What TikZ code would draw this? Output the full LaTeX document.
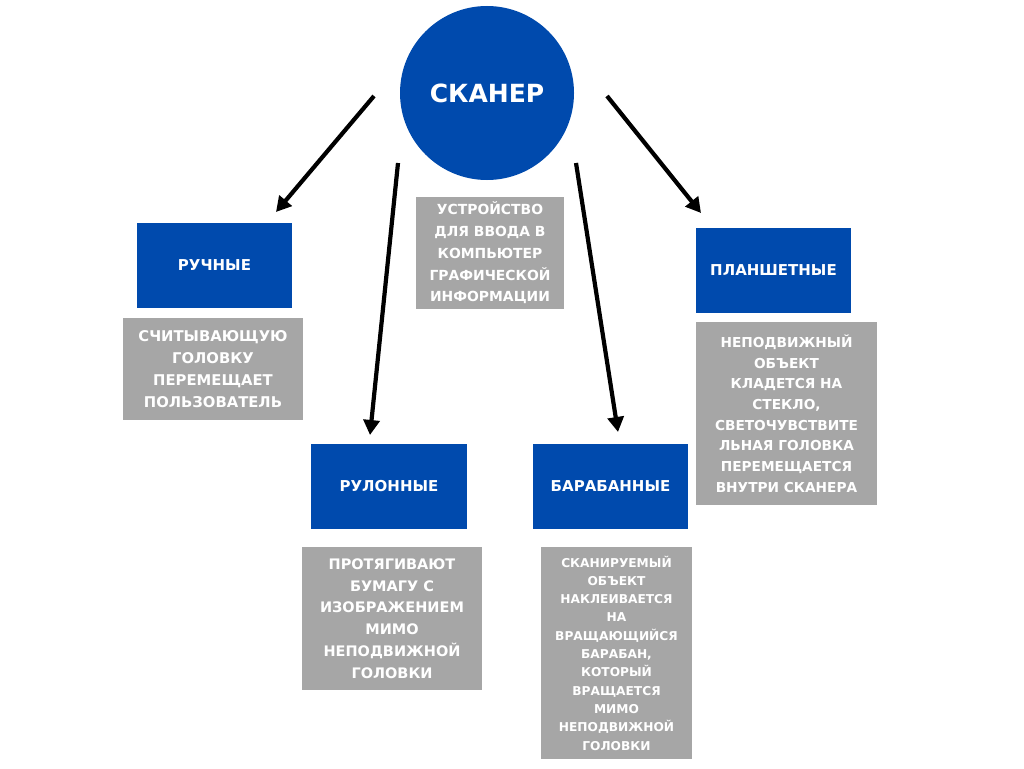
\documentclass[tikz,border=0pt]{standalone}
\usepackage{fontspec}
\setmainfont{DejaVu Sans}
\usetikzlibrary{arrows.meta}
\definecolor{cblue}{HTML}{004AAD}
\definecolor{cgray}{HTML}{A6A6A6}
\tikzset{
  bluebox/.style={fill=cblue, draw=none, text=white, inner sep=0pt, align=center,
    font=\bfseries\fontsize{15}{18}\selectfont},
  graybox/.style={fill=cgray, draw=none, text=white, inner sep=0pt, align=center},
  arr/.style={line width=4.2pt, -{Triangle[length=15pt,width=16pt]}},
}
\begin{document}
\begin{tikzpicture}[x=1pt,y=-1pt]
\useasboundingbox[fill=white] (0,0) rectangle (1024,768);
% main circle
\node[circle, fill=cblue, minimum size=174pt, inner sep=0pt, text=white,
  font=\bfseries\fontsize{25}{28}\selectfont] (scan) at (487,93) {СКАНЕР};
% description
\node[graybox, minimum width=148pt, minimum height=112pt,
  font=\bfseries\fontsize{13.9}{21.7}\selectfont] (desc) at (490,253)
  {УСТРОЙСТВО\\ДЛЯ ВВОДА В\\КОМПЬЮТЕР\\ГРАФИЧЕСКОЙ\\ИНФОРМАЦИИ};
% Ручные
\node[bluebox, minimum width=155pt, minimum height=85pt] (hand) at (214.5,265.5) {РУЧНЫЕ};
\node[graybox, minimum width=180pt, minimum height=102pt,
  font=\bfseries\fontsize{14.8}{22}\selectfont] (handd) at (213,369)
  {СЧИТЫВАЮЩУЮ\\ГОЛОВКУ\\ПЕРЕМЕЩАЕТ\\ПОЛЬЗОВАТЕЛЬ};
% Планшетные
\node[bluebox, minimum width=155pt, minimum height=85pt] (flat) at (773.5,270.5) {ПЛАНШЕТНЫЕ};
\node[graybox, minimum width=181pt, minimum height=183pt,
  font=\bfseries\fontsize{13.7}{20.7}\selectfont] (flatd) at (786.5,413.5)
  {НЕПОДВИЖНЫЙ\\ОБЪЕКТ\\КЛАДЕТСЯ НА\\СТЕКЛО,\\СВЕТОЧУВСТВИТЕ\\ЛЬНАЯ ГОЛОВКА\\ПЕРЕМЕЩАЕТСЯ\\ВНУТРИ СКАНЕРА};
% Рулонные
\node[bluebox, minimum width=156pt, minimum height=85pt] (roll) at (389,486.5) {РУЛОННЫЕ};
\node[graybox, minimum width=180pt, minimum height=143pt,
  font=\bfseries\fontsize{14.5}{21.8}\selectfont] (rolld) at (392,618.5)
  {ПРОТЯГИВАЮТ\\БУМАГУ С\\ИЗОБРАЖЕНИЕМ\\МИМО\\НЕПОДВИЖНОЙ\\ГОЛОВКИ};
% Барабанные
\node[bluebox, minimum width=155pt, minimum height=85pt] (drum) at (610.5,486.5) {БАРАБАННЫЕ};
\node[graybox, minimum width=151pt, minimum height=212pt,
  font=\bfseries\fontsize{12.2}{18.3}\selectfont] (drumd) at (616.5,653)
  {СКАНИРУЕМЫЙ\\ОБЪЕКТ\\НАКЛЕИВАЕТСЯ\\НА\\ВРАЩАЮЩИЙСЯ\\БАРАБАН,\\КОТОРЫЙ\\ВРАЩАЕТСЯ\\МИМО\\НЕПОДВИЖНОЙ\\ГОЛОВКИ};
% arrow end points
\coordinate (s1) at (374,96);  \coordinate (e1) at (276,212);
\coordinate (s2) at (398,163); \coordinate (e2) at (370,435);
\coordinate (s3) at (576,163); \coordinate (e3) at (618,432);
\coordinate (s4) at (607,96);  \coordinate (e4) at (701,213);
\draw[arr] (s1) -- (e1);
\draw[arr] (s2) -- (e2);
\draw[arr] (s3) -- (e3);
\draw[arr] (s4) -- (e4);
\end{tikzpicture}
\end{document}
